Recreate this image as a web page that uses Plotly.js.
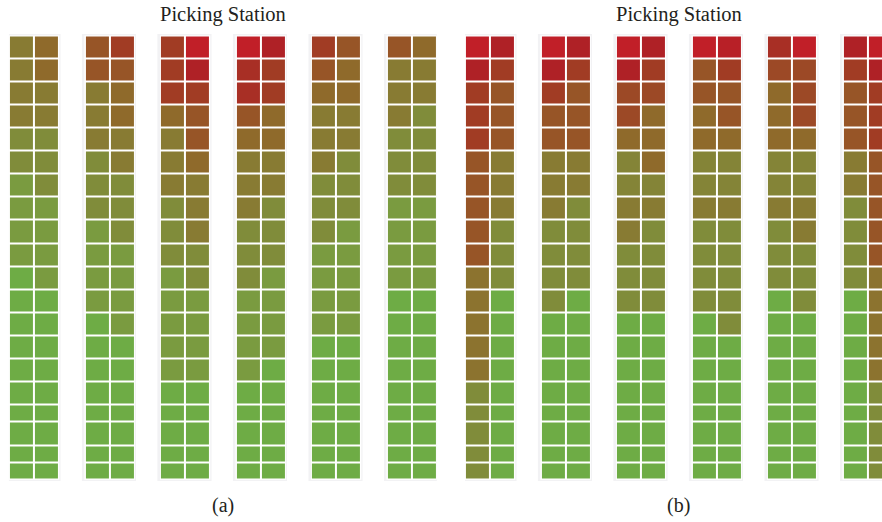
<!DOCTYPE html>
<html>
<head>
<meta charset="utf-8">
<script src="https://cdn.plot.ly/plotly-3.0.1.min.js"></script>
<style>html,body{margin:0;padding:0;background:#fff;}#chart{width:882px;height:522px;}</style>
</head>
<body>
<div id="chart"></div>
<script>
// ---------------- DATA ----------------
// 6 racks per layout, each rack has a left and right storage column, 20 levels (top to bottom).
const racks = ['Rack 1', 'Rack 2', 'Rack 3', 'Rack 4', 'Rack 5', 'Rack 6'];
const sides = ['L', 'R'];
const panelTitles = ['Picking Station', 'Picking Station'];
const panelLabels = ['(a)', '(b)'];

// Access heat level (0 = cold / green ... 8 = hot / red), one row per level, 12 values per row
const heatA = [
  [3, 4, 5, 6, 6, 8, 8, 7, 6, 5, 5, 4],
  [3, 4, 5, 5, 6, 7, 6.5, 6, 5, 4, 3, 3],
  [3, 3, 3, 4, 6, 6, 6.5, 6, 4, 4, 3, 3],
  [3, 3, 3, 4, 4, 5, 5, 4, 3, 3, 3, 2],
  [2, 2, 3, 3, 3, 5, 4, 4, 3, 3, 2, 2],
  [2, 2, 2, 3, 3, 4, 3, 3, 3, 2, 2, 2],
  [1, 2, 2, 2, 3, 3, 3, 3, 2, 2, 2, 2],
  [1, 1, 2, 2, 2, 3, 3, 2, 2, 2, 1, 1],
  [1, 1, 1, 2, 2, 3, 2, 2, 2, 1, 1, 1],
  [1, 1, 1, 1, 2, 2, 2, 2, 1, 1, 1, 1],
  [0, 1, 1, 1, 1, 2, 2, 1, 1, 1, 1, 1],
  [0, 0, 1, 1, 1, 1, 1, 1, 1, 1, 0, 0],
  [0, 0, 0, 1, 1, 1, 1, 1, 1, 1, 0, 0],
  [0, 0, 0, 0, 1, 1, 1, 1, 0, 0, 0, 0],
  [0, 0, 0, 0, 1, 1, 1, 0, 0, 0, 0, 0],
  [0, 0, 0, 0, 0, 0, 0, 0, 0, 0, 0, 0],
  [0, 0, 0, 0, 0, 0, 0, 0, 0, 0, 0, 0],
  [0, 0, 0, 0, 0, 0, 0, 0, 0, 0, 0, 0],
  [0, 0, 0, 0, 0, 0, 0, 0, 0, 0, 0, 0],
  [0, 0, 0, 0, 0, 0, 0, 0, 0, 0, 0, 0]
];

const heatB = [
  [8, 7, 8, 7, 8, 7, 8, 7.5, 6.5, 8, 7, 8],
  [7, 6, 7, 6, 7, 6, 5, 6, 5.5, 5.5, 6, 7],
  [6, 5, 6, 5, 5.5, 5.5, 5, 5, 4, 5.5, 5, 6],
  [6, 5, 5, 5, 5.5, 4, 4, 5, 4, 5.5, 5, 6],
  [6, 5, 5, 5, 4, 4, 4, 4, 4, 4, 5, 6],
  [5, 3, 3, 3, 2.5, 4, 2.5, 2.5, 2.5, 2.5, 3, 5],
  [5, 3, 3, 3, 2.5, 2.5, 2.5, 2.5, 2.5, 2.5, 3, 5],
  [5, 3, 3, 2, 3, 3, 3, 3, 3, 3, 2, 5],
  [5, 2, 2, 2, 3, 2, 2, 2, 2, 3, 2, 5],
  [5, 2, 2, 2, 2, 2, 2, 2, 2, 2, 2, 5],
  [3.5, 2, 2, 2, 2, 2, 2, 2, 2, 2, 2, 3.5],
  [3.5, 0, 2, 0, 2, 2, 2, 2, 0, 2, 0, 3.5],
  [3.5, 0, 0, 0, 0, 0, 0, 2, 0, 0, 0, 3.5],
  [3.5, 0, 0, 0, 0, 0, 0, 0, 0, 0, 0, 3.5],
  [3.5, 0, 0, 0, 0, 0, 0, 0, 0, 0, 0, 3.5],
  [2, 0, 0, 0, 0, 0, 0, 0, 0, 0, 0, 2],
  [2, 0, 0, 0, 0, 0, 0, 0, 0, 0, 0, 2],
  [2, 0, 0, 0, 0, 0, 0, 0, 0, 0, 0, 2],
  [2, 0, 0, 0, 0, 0, 0, 0, 0, 0, 0, 2],
  [2, 0, 0, 0, 0, 0, 0, 0, 0, 0, 0, 2]
];

// ---------------- STYLE ----------------
const heatColors = ['#6EAC45', '#7A9B40', '#808C3A', '#887B33', '#8F6A2B', '#975527', '#A13C24', '#AF2126', '#C11F28'];
// relative heights of the 20 levels (the last shelves are shallower)
const levelHeights = [1,1,1,1,1,1,1,1,1,1,1,1,1,1,1,1,0.76,1,0.74,0.76];
const FONT = 'Liberation Serif, "DejaVu Serif", serif';

const colorscale = heatColors.map((c, i) => [i / (heatColors.length - 1), c]);
const slotsPerRack = 3; // two columns + one aisle slot
const nSlots = racks.length * slotsPerRack - 1;

const yEdges = [0];
levelHeights.forEach(h => yEdges.push(yEdges[yEdges.length - 1] + h));
const yTotal = yEdges[yEdges.length - 1];

function buildZ(heat) {
  return heat.map(row => {
    const z = new Array(nSlots).fill(null);
    row.forEach((v, c) => {
      const rack = Math.floor(c / sides.length);
      const side = c % sides.length;
      z[rack * slotsPerRack + side] = v;
    });
    return z;
  });
}
const xSlots = Array.from({length: nSlots}, (_, i) => i);

const traces = [heatA, heatB].map((heat, p) => ({
  type: 'heatmap',
  x: xSlots,
  y: yEdges,
  z: buildZ(heat),
  xaxis: p === 0 ? 'x' : 'x2',
  yaxis: 'y',
  colorscale: colorscale,
  zmin: 0,
  zmax: heatColors.length - 1,
  showscale: false,
  xgap: 2,
  ygap: 2,
  hoverinfo: 'skip'
}));

const shapes = [];
['x', 'x2'].forEach(xr => {
  racks.forEach((r, k) => {
    const c0 = k * slotsPerRack;
    shapes.push({type: 'rect', xref: xr, yref: 'y', layer: 'below',
      x0: c0 - 0.6, x1: c0 + 1.55, y0: -0.06, y1: yTotal + 0.06,
      fillcolor: '#F2F2F4', line: {width: 0}});
    shapes.push({type: 'rect', xref: xr, yref: 'y', layer: 'below',
      x0: c0 - 0.5, x1: c0 + 1.5, y0: 0, y1: yTotal,
      fillcolor: '#FFFFFF', line: {width: 0}});
  });
});

const mid = (nSlots - 1) / 2;
const annotations = [];
['x', 'x2'].forEach((xr, p) => {
  annotations.push({xref: xr, yref: 'y', x: mid, y: -0.89, text: panelTitles[p], showarrow: false,
    font: {family: FONT, size: 20.5, color: '#231F20'}, xanchor: 'center', yanchor: 'middle'});
  annotations.push({xref: xr, yref: 'y', x: mid, y: 20.36, text: panelLabels[p], showarrow: false,
    font: {family: FONT, size: 20, color: '#231F20'}, xanchor: 'center', yanchor: 'middle'});
});

const W = 882, H = 522;
const pitchX = 25.17, pitchY = 23.06;
const ax = (startPx) => {
  const d0 = (startPx - pitchX * 0.5) / W;
  const endUnits = Math.min(nSlots - 0.5, -0.5 + (W - (startPx - pitchX * 0.5)) / pitchX);
  const d1 = Math.min(1, d0 + (endUnits + 0.5) * pitchX / W);
  return {domain: [d0, d1], range: [-0.5, endUnits], visible: false, fixedrange: true};
};
const topPx = 35.5;

const layout = {
  width: W, height: H,
  margin: {l: 0, r: 0, t: 0, b: 0, pad: 0},
  paper_bgcolor: '#FFFFFF',
  plot_bgcolor: 'rgba(0,0,0,0)',
  showlegend: false,
  xaxis: Object.assign(ax(21.5), {anchor: 'y'}),
  xaxis2: Object.assign(ax(477.5), {anchor: 'y'}),
  yaxis: {domain: [0, 1], range: [(H - topPx) / pitchY, -topPx / pitchY], visible: false, fixedrange: true},
  shapes: shapes,
  annotations: annotations
};

Plotly.newPlot('chart', traces, layout, {displayModeBar: false, staticPlot: true});
</script>
</body>
</html>
